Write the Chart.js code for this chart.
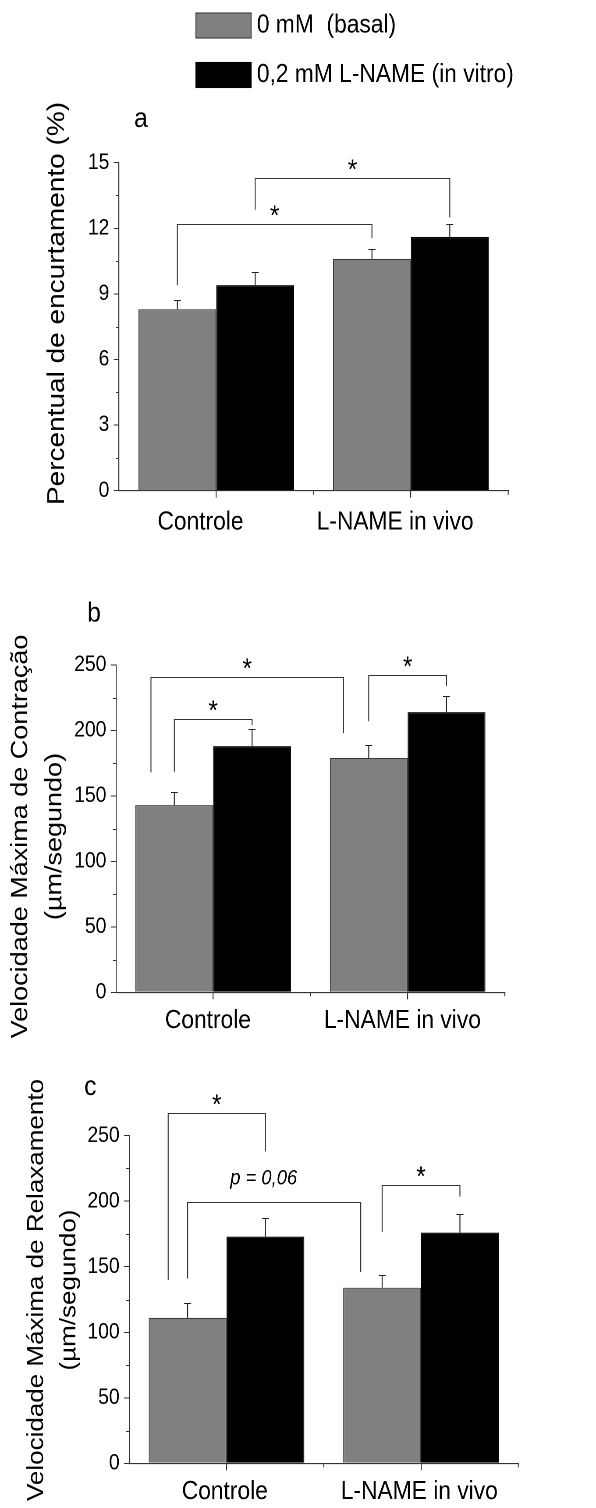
<!DOCTYPE html>
<html>
<head>
<meta charset="utf-8">
<script src="https://cdn.jsdelivr.net/npm/chart.js@4.4.1/dist/chart.umd.min.js"></script>
<style>
  html, body { margin: 0; padding: 0; background: #fff; }
  #fig { position: relative; width: 596px; height: 1508px; overflow: hidden; }
  /* the original figure is horizontally condensed: draw at 680px wide, show at 596px */
  canvas { position: absolute; left: 0; width: 596px; }
</style>
</head>
<body>
<div id="fig">
  <canvas id="chartA" width="680" height="550" style="top:0; height:550px"></canvas>
  <canvas id="chartB" width="680" height="455" style="top:585px; height:455px"></canvas>
  <canvas id="chartC" width="680" height="448" style="top:1060px; height:448px"></canvas>
</div>
<script>
// categorias e séries
const groups = ['Controle', 'L-NAME in vivo'];
const seriesNames = ['0 mM  (basal)', '0,2 mM L-NAME (in vitro)'];

// a - percentual de encurtamento (%)
const shortBasal = [8.3, 10.6];
const shortBasalSE = [0.4, 0.45];
const shortLname = [9.4, 11.6];
const shortLnameSE = [0.6, 0.6];

// b - velocidade máxima de contração (µm/s)
const contrBasal = [143, 179];
const contrBasalSE = [10, 10];
const contrLname = [188, 214];
const contrLnameSE = [13, 12];

// c - velocidade máxima de relaxamento (µm/s)
const relaxBasal = [111, 134];
const relaxBasalSE = [11, 10];
const relaxLname = [173, 176];
const relaxLnameSE = [14, 14];

// tick labels do eixo y
const ticksA = [0, 3, 6, 9, 12, 15];
const ticksBC = [0, 50, 100, 150, 200, 250];

// colchetes de significância: [x esquerda, x direita, y perna esq., y topo, y perna dir., texto]
const sigA = [
  [-0.2, 0.8, 9.4, 12.2, 11.55, '*'],
  [0.2, 1.2, 12.85, 14.3, 12.5, '*']
];
const sigB = [
  [-0.32, 0.67, 168, 241, 198, '*'],
  [-0.2, 0.2, 168.5, 208.5, 204, '*'],
  [0.8, 1.2, 207, 242.5, 234, '*']
];
const sigC = [
  [-0.3, 0.2, 140, 267.5, 238, '*'],
  [-0.2, 0.69, 141, 199.5, 146, 'p = 0,06'],
  [0.8, 1.2, 176.5, 212.5, 203.5, '*']
];

const FONT = "'Liberation Sans', Arial, Helvetica, sans-serif";
const INK = '#333';
const GRAY = '#808080';

Chart.defaults.font.family = FONT;
Chart.defaults.color = '#000';

// barras de erro (só para cima)
const errorBars = {
  id: 'errorBars',
  afterDatasetsDraw(chart) {
    const ctx = chart.ctx;
    const y = chart.scales.y;
    ctx.save();
    ctx.strokeStyle = '#222';
    ctx.lineWidth = 1.1;
    chart.data.datasets.forEach((ds, i) => {
      chart.getDatasetMeta(i).data.forEach((bar, j) => {
        const x = bar.x;
        const top = Math.round(y.getPixelForValue(ds.data[j] + ds.se[j])) + 0.5;
        ctx.beginPath();
        ctx.moveTo(x, bar.y);
        ctx.lineTo(x, top);
        ctx.moveTo(x - 4, top);
        ctx.lineTo(x + 4, top);
        ctx.stroke();
      });
    });
    ctx.restore();
  }
};

// ticks menores, colchetes, letras do painel, título do eixo y e legenda
const decor = {
  id: 'decor',
  afterDraw(chart, args, o) {
    const { ctx, chartArea: area } = chart;
    const x = chart.scales.x;
    const y = chart.scales.y;
    ctx.save();
    ctx.strokeStyle = INK;
    ctx.lineWidth = 1.1;

    const step = y.options.ticks.stepSize;
    ctx.beginPath();
    for (let v = y.min + step / 2; v < y.max; v += step) {
      const py = Math.round(y.getPixelForValue(v)) + 0.5;
      ctx.moveTo(area.left - 3.5, py);
      ctx.lineTo(area.left, py);
    }
    [0.5, 1.5].forEach(v => {
      const px = x.getPixelForValue(v);
      ctx.moveTo(px, area.bottom);
      ctx.lineTo(px, area.bottom + 4);
    });
    ctx.stroke();

    ctx.fillStyle = '#000';
    ctx.textAlign = 'center';
    ctx.textBaseline = 'alphabetic';
    o.brackets.forEach(([a, b, yl, yt, yr, label]) => {
      const xa = x.getPixelForValue(a);
      const xb = x.getPixelForValue(b);
      const pt = Math.round(y.getPixelForValue(yt)) + 0.5;
      ctx.beginPath();
      ctx.moveTo(xa, y.getPixelForValue(yl));
      ctx.lineTo(xa, pt);
      ctx.lineTo(xb, pt);
      ctx.lineTo(xb, y.getPixelForValue(yr));
      ctx.stroke();
      if (label === '*') {
        ctx.font = '28px ' + FONT;
        ctx.fillText(label, (xa + xb) / 2, pt);
      } else {
        ctx.font = 'italic 21px ' + FONT;
        ctx.fillText(label, (xa + xb) / 2 - 12, pt - 18);
      }
    });

    ctx.textAlign = 'left';
    ctx.font = '28px ' + FONT;
    ctx.fillText(o.letter[0], o.letter[1], o.letter[2]);

    ctx.font = o.titleSize + 'px ' + FONT;
    ctx.textAlign = 'center';
    o.title.forEach((line, k) => {
      ctx.save();
      ctx.translate(o.titleX[k], o.titleY);
      ctx.rotate(-Math.PI / 2);
      ctx.fillText(line, 0, 0);
      ctx.restore();
    });

    if (o.legend) {
      ctx.font = '26px ' + FONT;
      ctx.textAlign = 'left';
      ctx.textBaseline = 'middle';
      chart.data.datasets.forEach((ds, i) => {
        const top = 12.5 + i * 49.5;
        ctx.fillStyle = ds.backgroundColor;
        ctx.fillRect(223, top, 64, 26);
        ctx.strokeStyle = ds.borderColor;
        ctx.strokeRect(223.5, top + 0.5, 63, 25);
        ctx.fillStyle = '#000';
        ctx.fillText(ds.label, 293, top + 13);
      });
    }
    ctx.restore();
  }
};

function makeChart(id, basal, basalSE, lname, lnameSE, yTicks, box, deco) {
  return new Chart(document.getElementById(id), {
    type: 'bar',
    data: {
      labels: groups,
      datasets: [
        { label: seriesNames[0], data: basal, se: basalSE, backgroundColor: GRAY, borderColor: '#3a3a3a', borderWidth: 1.1 },
        { label: seriesNames[1], data: lname, se: lnameSE, backgroundColor: '#000', borderColor: '#000', borderWidth: 1.1 }
      ]
    },
    options: {
      responsive: false,
      animation: false,
      devicePixelRatio: 2,
      events: [],
      layout: { padding: { top: box.top, right: box.right, left: 0, bottom: 0 } },
      datasets: { bar: { barPercentage: 1, categoryPercentage: 0.8 } },
      scales: {
        x: {
          afterFit: s => { s.height = box.xHeight; },
          grid: { drawOnChartArea: false, offset: false, tickLength: 7, color: INK, lineWidth: 1.1 },
          border: { color: INK, width: 1.1 },
          ticks: { font: { size: 26 }, padding: box.labelPad, labelOffset: box.labelShift, maxRotation: 0 }
        },
        y: {
          min: yTicks[0],
          max: yTicks[yTicks.length - 1],
          afterFit: s => { s.width = box.left; },
          grid: { drawOnChartArea: false, tickLength: 6, color: INK },
          border: { color: INK, width: 1.1 },
          ticks: { stepSize: yTicks[1] - yTicks[0], font: { size: 22 }, padding: 5 }
        }
      },
      plugins: {
        legend: { display: false },
        tooltip: { enabled: false },
        decor: deco
      }
    },
    plugins: [errorBars, decor]
  });
}

makeChart('chartA', shortBasal, shortBasalSE, shortLname, shortLnameSE, ticksA,
  { top: 162.7, right: 100.2, left: 135.7, xHeight: 59.3, labelPad: 9, labelShift: -18 },
  { brackets: sigA, letter: ['a', 153, 127], title: ['Percentual de encurtamento (%)'],
    titleSize: 28, titleX: [73], titleY: 303.5, legend: true });

makeChart('chartB', contrBasal, contrBasalSE, contrLname, contrLnameSE, ticksBC,
  { top: 80, right: 104, left: 132.3, xHeight: 47.7, labelPad: 6, labelShift: -6 },
  { brackets: sigB, letter: ['b', 99.5, 36.7],
    title: ['Velocidade Máxima de Contração', '(µm/segundo)'],
    titleSize: 27, titleX: [31, 70], titleY: 251.5, legend: false });

makeChart('chartC', relaxBasal, relaxBasalSE, relaxLname, relaxLnameSE, ticksBC,
  { top: 75.7, right: 88.7, left: 147.5, xHeight: 44.7, labelPad: 6, labelShift: -2 },
  { brackets: sigC, letter: ['c', 96, 35],
    title: ['Velocidade Máxima de Relaxamento', '(µm/segundo)'],
    titleSize: 26, titleX: [49, 86], titleY: 230, legend: false });
</script>
</body>
</html>
